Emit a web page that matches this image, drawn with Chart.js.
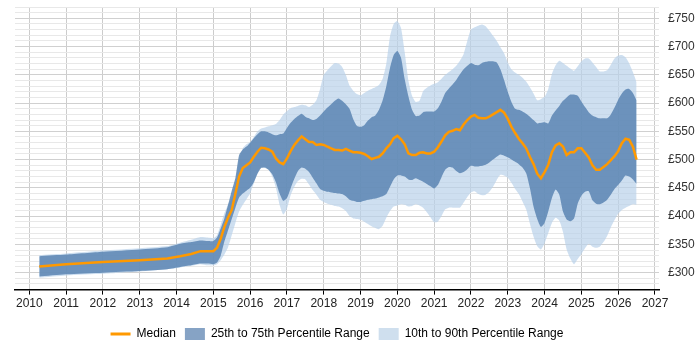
<!DOCTYPE html>
<html>
<head>
<meta charset="utf-8">
<script src="https://cdn.jsdelivr.net/npm/chart.js@4.4.1/dist/chart.umd.min.js"></script>
<style>
  html, body { margin: 0; padding: 0; background: #fff; }
  #wrap { width: 700px; height: 350px; position: relative; }
</style>
</head>
<body>
<div id="wrap"><canvas id="grafico"></canvas></div>
<script>
// fechas (años decimales) de cada punto
const fechas = [
  2010.27, 2011, 2012, 2013, 2013.75, 2014.1, 2014.4, 2014.65, 2014.85,
  2015.0, 2015.1, 2015.2, 2015.3, 2015.4, 2015.5, 2015.6, 2015.7, 2015.8, 2015.9,
  2016.0, 2016.1, 2016.2, 2016.3, 2016.4, 2016.5, 2016.6, 2016.7, 2016.8, 2016.9,
  2017.0, 2017.1, 2017.2, 2017.3, 2017.4, 2017.5, 2017.6, 2017.7, 2017.8, 2017.9,
  2018.0, 2018.1, 2018.2, 2018.3, 2018.4, 2018.5, 2018.6, 2018.7, 2018.8, 2018.9,
  2019.0, 2019.1, 2019.2, 2019.3, 2019.4, 2019.5, 2019.6, 2019.7, 2019.8, 2019.9,
  2020.0, 2020.1, 2020.2, 2020.3, 2020.4, 2020.5, 2020.6, 2020.7, 2020.8, 2020.9,
  2021.0, 2021.1, 2021.2, 2021.3, 2021.4, 2021.5, 2021.6, 2021.7, 2021.8, 2021.9,
  2022.0, 2022.1, 2022.2, 2022.3, 2022.4, 2022.5, 2022.6, 2022.7, 2022.8, 2022.9,
  2023.0, 2023.1, 2023.2, 2023.3, 2023.4, 2023.5, 2023.6, 2023.7, 2023.8, 2023.9,
  2024.0, 2024.1, 2024.2, 2024.3, 2024.4, 2024.5, 2024.6, 2024.7, 2024.8, 2024.9,
  2025.0, 2025.1, 2025.2, 2025.3, 2025.4, 2025.5, 2025.6, 2025.7, 2025.8, 2025.9,
  2026.0, 2026.1, 2026.2, 2026.3, 2026.4, 2026.5
];

const mediana = [
  311, 315, 319, 322, 325, 329, 333, 338, 338,
  338, 344, 360, 381, 397, 411, 440, 470, 485, 490,
  495, 505, 514, 521, 520, 518, 514, 502, 495, 492,
  502, 515, 526, 534, 541, 536, 531, 531, 526, 527,
  526, 523, 520, 517, 517, 516, 519, 516, 513, 513,
  512, 510, 506, 501, 503, 505, 511, 520, 527, 538,
  542, 536, 527, 511, 508, 508, 512, 513, 511, 511,
  514, 522, 532, 543, 549, 551, 554, 552, 562, 570,
  576, 579, 574, 573, 573, 576, 580, 584, 588, 583,
  572, 558, 547, 537, 529, 520, 505, 492, 475, 467,
  478, 491, 513, 525, 529, 523, 508, 513, 513, 520,
  520, 512, 504, 490, 482, 482, 487, 492, 499, 506,
  515, 529, 537, 535, 523, 500
];

const p25 = [
  293, 297, 300, 303, 306, 310, 313, 316, 316,
  315, 318, 330, 355, 375, 395, 415, 433, 440, 445,
  450, 460, 475, 485, 486, 482, 474, 460, 440, 427,
  432, 449, 466, 480, 486, 484, 478, 468, 458, 448,
  445, 443, 442, 441, 440, 439, 435, 429, 427, 425,
  425, 427, 429, 430, 431, 433, 435, 439, 452, 465,
  472, 472, 470, 465, 464, 467, 464, 461, 457, 453,
  449, 455, 469, 482, 487, 486, 480, 476, 478, 483,
  489, 488, 488, 489, 491, 495, 500, 505, 509, 507,
  504, 500, 496, 492, 486, 476, 450, 417, 395, 381,
  388, 408, 432, 447, 438, 408, 394, 391, 396, 422,
  436, 443, 444, 428, 422, 421, 424, 429, 438, 448,
  455, 463, 472, 470, 465, 457
];

const p75 = [
  329, 332, 337, 341, 345, 351, 354, 357, 356,
  356, 362, 378, 396, 420, 445, 468, 508, 518, 523,
  530, 538, 545, 550, 550, 548, 545, 543, 545, 546,
  556, 565, 572, 577, 581, 576, 573, 570, 572, 578,
  585, 592, 598, 604, 608, 604, 598, 590, 572, 560,
  558, 561, 569, 575, 578, 588, 605, 630, 662, 685,
  692, 680, 642, 612, 588, 577, 578, 584, 585, 585,
  585, 591, 603, 618, 626, 633, 641, 651, 660, 666,
  671, 668, 667, 671, 673, 674, 674, 672, 660, 641,
  620, 602, 590, 588, 585, 581, 576, 570, 564, 565,
  566, 564, 578, 587, 595, 604, 610, 615, 615, 613,
  603, 593, 584, 578, 575, 573, 573, 573, 580, 592,
  606, 617, 624, 625, 618, 605
];

const p10 = [
  291, 295, 298, 302, 306, 309, 312, 315, 313,
  313, 315, 322, 332, 345, 366, 388, 408, 420, 430,
  440, 458, 476, 487, 485, 482, 470, 450, 420, 403,
  413, 437, 452, 462, 466, 465, 456, 446, 438, 429,
  425, 422, 420, 418, 417, 414, 409, 400, 396, 395,
  394, 390, 386, 382, 379, 377, 383, 397, 409, 417,
  419, 421, 420, 417, 418, 421, 419, 415, 407, 398,
  389, 390, 400, 412, 415, 415, 415, 415, 424, 434,
  442, 444, 439, 437, 438, 443, 452, 464, 473, 472,
  468, 459, 448, 439, 426, 412, 387, 364, 347, 341,
  352, 370, 388, 397, 392, 372, 341, 325, 315, 324,
  333, 343, 351, 346, 344, 346, 354, 365, 380, 393,
  404, 411, 415, 418, 421, 420
];

const p90 = [
  331, 334, 339, 343, 347, 353, 358, 363, 362,
  361, 366, 385, 405, 420, 432, 460, 500, 520, 527,
  531, 540, 550, 555, 557, 559, 561, 563, 570, 580,
  586, 591, 593, 595, 597, 596, 593, 597, 605, 625,
  650, 658, 665, 671, 670, 664, 650, 631, 622, 616,
  614, 618, 622, 625, 628, 632, 643, 670, 718, 740,
  745, 733, 690, 640, 613, 602, 604, 621, 627, 631,
  634, 637, 643, 650, 655, 660, 666, 675, 687, 710,
  730, 734, 737, 739, 736, 728, 719, 710, 699, 688,
  672, 660, 654, 650, 645, 638, 628, 617, 605, 607,
  611, 625, 652, 667, 675, 671, 666, 661, 657, 665,
  674, 679, 679, 672, 664, 656, 656, 658, 668, 679,
  684, 685, 681, 670, 655, 637
];

// años con etiqueta en el eje x
const anios = [2010, 2011, 2012, 2013, 2014, 2015, 2016, 2017, 2018,
  2019, 2020, 2021, 2022, 2023, 2024, 2025, 2026, 2027];

const etiquetas = ["Median", "25th to 75th Percentile Range", "10th to 90th Percentile Range"];

const NARANJA = "#ff9900";
const OSCURO = "rgba(84, 127, 175, 0.8)";
const CLARO = "rgba(185, 210, 233, 0.7)";

function puntos(valores) {
  return valores.map((v, i) => ({ x: fechas[i], y: v }));
}

const fuente = { family: "'Liberation Sans', Arial, sans-serif", size: 12 };

// centrar la leyenda sobre el area del grafico y no sobre todo el lienzo
const centrarLeyenda = {
  id: "centrarLeyenda",
  afterLayout(chart) {
    const l = chart.legend;
    const a = chart.chartArea;
    const dx = (a.left + a.right) / 2 - (l.left + l.right) / 2;
    l.left += dx;
    l.right += dx;
  }
};

new Chart(document.getElementById("grafico"), {
  type: "line",
  data: {
    datasets: [
      {
        label: etiquetas[0],
        data: puntos(mediana),
        borderColor: NARANJA,
        borderWidth: 2.5,
        pointRadius: 0,
        fill: false,
        tension: 0
      },
      {
        label: "p75",
        data: puntos(p75),
        borderWidth: 0,
        pointRadius: 0,
        backgroundColor: OSCURO,
        fill: "+1",
        tension: 0.2
      },
      {
        label: "p25",
        data: puntos(p25),
        borderWidth: 0,
        pointRadius: 0,
        fill: false,
        tension: 0.2
      },
      {
        label: "p90",
        data: puntos(p90),
        borderWidth: 0,
        pointRadius: 0,
        backgroundColor: CLARO,
        fill: "+1",
        tension: 0.2
      },
      {
        label: "p10",
        data: puntos(p10),
        borderWidth: 0,
        pointRadius: 0,
        fill: false,
        tension: 0.2
      }
    ]
  },
  plugins: [centrarLeyenda],
  options: {
    responsive: true,
    maintainAspectRatio: false,
    animation: false,
    layout: { padding: { left: 15, top: 7, right: 0, bottom: 0 } },
    scales: {
      x: {
        type: "linear",
        min: 2009.611,
        max: 2027.109,
        afterBuildTicks: (escala) => {
          escala.ticks = anios.map((a) => ({ value: a }));
        },
        afterFit: (escala) => { escala.height += 6; },
        grid: {
          color: "#cccccc",
          tickColor: "#000",
          tickLength: 5,
          drawTicks: true
        },
        border: { color: "#000", width: 1.5 },
        ticks: {
          color: "#222",
          font: fuente,
          padding: 2,
          maxRotation: 0,
          autoSkip: false,
          callback: (v) => String(v)
        }
      },
      y: {
        position: "right",
        min: 270,
        max: 770,
        afterFit: (escala) => {
          escala.width = 41;
          escala.paddingTop = 0;
          escala.paddingBottom = 0;
        },
        grid: {
          drawTicks: false,
          color: (ctx) => (ctx.tick && ctx.tick.value % 50 === 0 ? "#d0d0d0" : "#e8e8e8")
        },
        border: { display: false },
        ticks: {
          stepSize: 10,
          autoSkip: false,
          padding: 9,
          color: "#333",
          font: fuente,
          callback: (v) => (v % 50 === 0 ? "£" + v : "")
        }
      }
    },
    plugins: {
      tooltip: { enabled: false },
      legend: {
        position: "bottom",
        labels: {
          usePointStyle: true,
          pointStyleWidth: 20,
          boxHeight: 12,
          padding: 9,
          color: "#333",
          font: fuente,
          generateLabels: () => [
            { text: etiquetas[0], pointStyle: "line", strokeStyle: NARANJA, fillStyle: NARANJA, lineWidth: 3, datasetIndex: 0 },
            { text: etiquetas[1], pointStyle: "rect", fillStyle: "#86a3c5", strokeStyle: "#86a3c5", lineWidth: 0, datasetIndex: 1 },
            { text: etiquetas[2], pointStyle: "rect", fillStyle: "#cfdfee", strokeStyle: "#cfdfee", lineWidth: 0, datasetIndex: 3 }
          ]
        }
      }
    }
  }
});
</script>
</body>
</html>
